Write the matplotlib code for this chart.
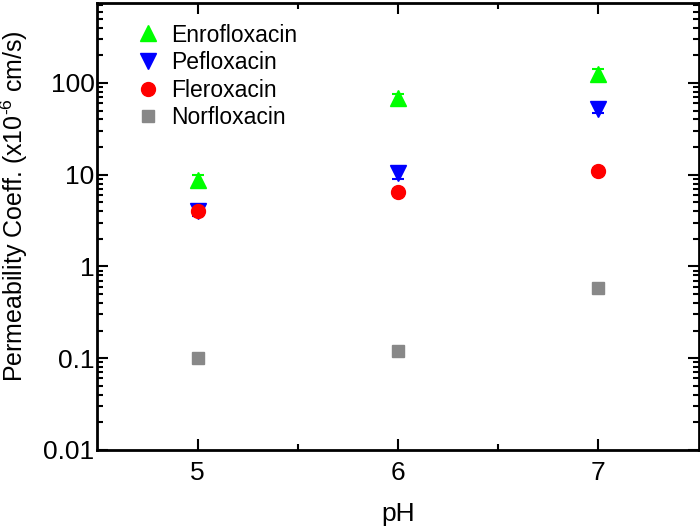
import matplotlib
matplotlib.use("Agg")
import matplotlib.pyplot as plt
import numpy as np
from matplotlib.ticker import LogLocator, FixedLocator, NullFormatter
from matplotlib.lines import Line2D

plt.rcParams['font.family'] = ['Liberation Sans', 'DejaVu Sans']
plt.rcParams['mathtext.fontset'] = 'custom'
plt.rcParams['mathtext.rm'] = 'Liberation Sans'
plt.rcParams['mathtext.it'] = 'Liberation Sans'

ph = [5, 6, 7]
enro = [8.8, 68, 125]
enro_err = [1.2, 8, 18]
peflo = [4.0, 10.5, 52]
peflo_err = [0.5, 1.5, 5]
flero = [4.0, 6.5, 11]
flero_err = [0.4, 0.5, 0.8]
norflo = [0.10, 0.12, 0.58]
norflo_err = [0.005, 0.01, 0.05]
yticks = [0.01, 0.1, 1, 10, 100]
ytick_labels = ['0.01', '0.1', '1', '10', '100']

fig = plt.figure(figsize=(7, 5.28), dpi=100)
ax = fig.add_axes([0.139, 0.148, 0.859, 0.846])

series = [
    ("Enrofloxacin", enro, enro_err, '^', '#00ff00', 12),
    ("Pefloxacin", peflo, peflo_err, 'v', '#0000ff', 12),
    ("Fleroxacin", flero, flero_err, 'o', '#ff0000', 10),
    ("Norfloxacin", norflo, norflo_err, 's', '#888888', 9),
]
handles = []
for name, vals, err, m, c, ms in series:
    ax.errorbar(ph, vals, yerr=err, fmt=m, color=c, ms=ms, mec=c,
                elinewidth=1.5, capsize=4, capthick=1.5)
    handles.append(Line2D([], [], linestyle='none', marker=m, color=c, mec=c, ms=ms, label=name))

ax.set_yscale('log')
ax.set_xlim(4.5, 7.5)
ax.set_ylim(0.01, 740)
ax.set_yticks(yticks)
ax.set_yticklabels(ytick_labels)
ax.yaxis.set_minor_locator(LogLocator(base=10, subs=np.arange(2, 10)))
ax.yaxis.set_minor_formatter(NullFormatter())
ax.set_xticks(ph)
ax.xaxis.set_minor_locator(FixedLocator([5.5, 6.5]))

ax.tick_params(which='both', direction='in', top=True, right=True, width=1.5, labelsize=19)
ax.tick_params(which='major', length=8)
ax.tick_params(which='minor', length=4)
ax.tick_params(axis='y', which='major', pad=2)
ax.tick_params(axis='x', which='major', pad=8)
for s in ax.spines.values():
    s.set_linewidth(2)

ax.set_xlabel('pH', fontsize=19, labelpad=12)
ax.set_ylabel('Permeability Coeff. (x10$^{\u20106}$ cm/s)', fontsize=18)
ax.yaxis.set_label_coords(-0.112, 0.546)

leg = ax.legend(handles=handles, loc='upper left', frameon=False, fontsize=16.5, handletextpad=0.1,
                labelspacing=0.2, borderaxespad=0.0, handlelength=1.8,
                bbox_to_anchor=(0.035, 0.975))

fig.savefig('out.png', dpi=100)
